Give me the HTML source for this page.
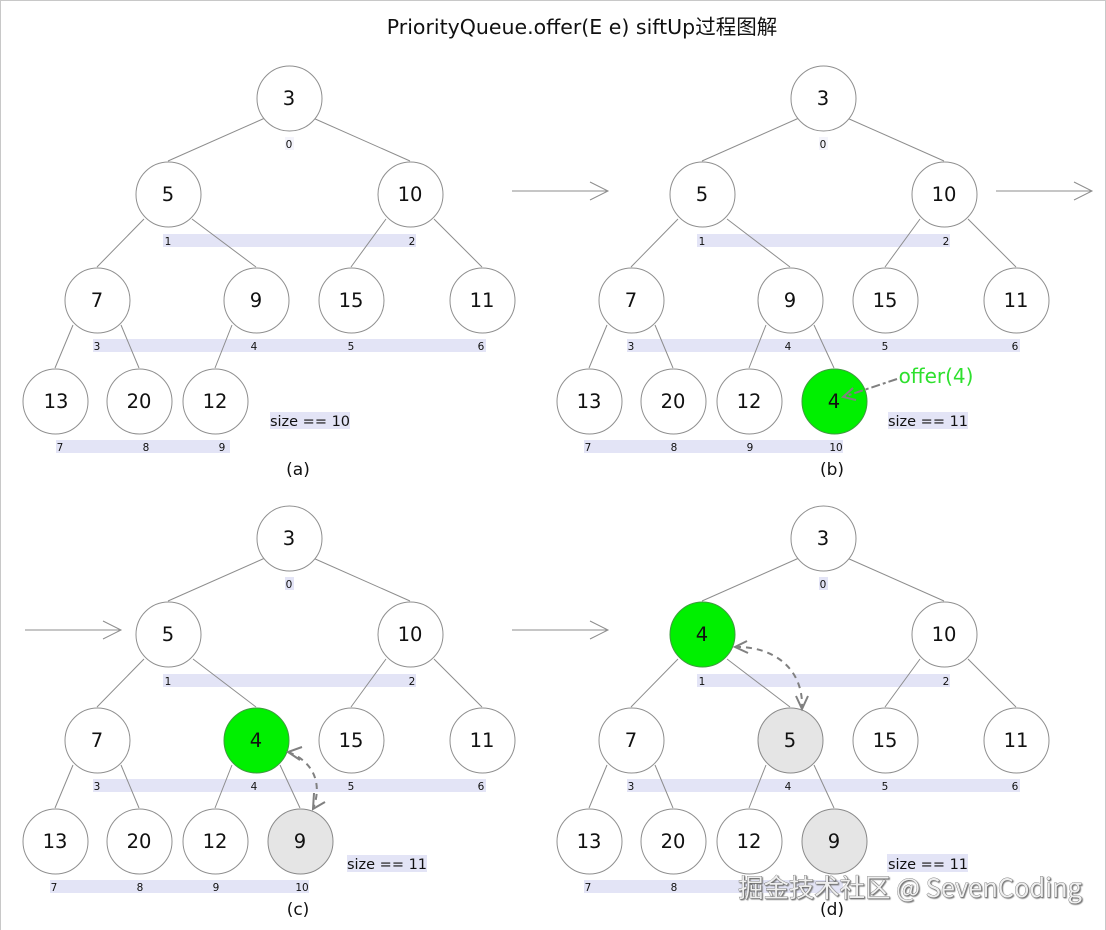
<!DOCTYPE html>
<html><head><meta charset="utf-8">
<style>
html,body{margin:0;padding:0;background:#fff;width:1106px;height:930px;overflow:hidden}
svg{display:block;filter:blur(0.35px)}
text{font-family:"DejaVu Sans","Noto Sans CJK SC",sans-serif;fill:#111;text-anchor:middle}
.bar{fill:#e3e4f6;stroke:none}
.z{fill:#f4f4fb;stroke:none}
.e{stroke:#8d8d8d;stroke-width:1;fill:none}
circle{transform:translate(.5px,.5px)}
.n{fill:#fff;stroke:#8f8f8f;stroke-width:1}
.g{fill:#00f000;stroke:#3f9a3f;stroke-width:1}
.h{fill:#e5e5e5;stroke:#8a8a8a;stroke-width:1}
.v{font-size:19.5px}
.i{font-size:10.5px}
.s{font-size:14.5px}
.c{font-size:17px}
.d{stroke:#808080;stroke-width:2;fill:none;stroke-dasharray:6 5}
.a{stroke:#808080;stroke-width:2;fill:none}
</style></head><body>
<svg width="1106" height="930" viewBox="0 0 1106 930" xmlns="http://www.w3.org/2000/svg">
<rect x="0" y="0" width="1106" height="930" fill="#fff"/>
<path d="M0.5 930V0.5H1105.5V930" fill="none" stroke="#c8c8c8" stroke-width="1"/>
<text x="582" y="34" style="font-size:20.5px">PriorityQueue.offer(E e) siftUp过程图解</text>

<!-- arrows -->
<path class="e" d="M512 191H608M590 182L608 191L590 200"/>
<path class="e" d="M996 191H1092M1074 182L1092 191L1074 200"/>
<path class="e" d="M25 630H121M103 621L121 630L103 639"/>
<path class="e" d="M512 630H608M590 621L608 630L590 639"/>

<!-- panel a -->
<g>
<rect class="bar" x="163" y="234" width="253" height="13"/>
<rect class="bar" x="93" y="339" width="393" height="13"/>
<rect class="bar" x="56" y="440" width="174" height="13"/>
<rect class="z" x="285" y="137" width="9" height="13"/>
<path class="e" d="M265 118L168 161M313 118L410 161M144 219L97 267M192 219L256 267M386 219L351 267M434 219L482 267M73 325L55 368M121 325L139 368M232 325L215 368"/>
<circle class="n" cx="289" cy="98" r="32.5"/><circle class="n" cx="168" cy="194" r="32.5"/><circle class="n" cx="410" cy="194" r="32.5"/>
<circle class="n" cx="97" cy="300" r="32.5"/><circle class="n" cx="256" cy="300" r="32.5"/><circle class="n" cx="351" cy="300" r="32.5"/><circle class="n" cx="482" cy="300" r="32.5"/>
<circle class="n" cx="55" cy="401" r="32.5"/><circle class="n" cx="139" cy="401" r="32.5"/><circle class="n" cx="215" cy="401" r="32.5"/>
<text class="v" x="289" y="105">3</text><text class="v" x="168" y="201">5</text><text class="v" x="410" y="201">10</text>
<text class="v" x="97" y="307">7</text><text class="v" x="256" y="307">9</text><text class="v" x="351" y="307">15</text><text class="v" x="482" y="307">11</text>
<text class="v" x="56" y="408">13</text><text class="v" x="139" y="408">20</text><text class="v" x="215" y="408">12</text>
<text class="i" x="289" y="148">0</text><text class="i" x="168" y="245">1</text><text class="i" x="412" y="245">2</text>
<text class="i" x="97" y="350">3</text><text class="i" x="254" y="350">4</text><text class="i" x="351" y="350">5</text><text class="i" x="481" y="350">6</text>
<text class="i" x="60" y="451">7</text><text class="i" x="146" y="451">8</text><text class="i" x="222" y="451">9</text>
<rect class="bar" x="270" y="412" width="80" height="17"/>
<text class="s" x="310" y="426">size == 10</text>
<text class="c" x="298" y="475">(a)</text>
</g>

<!-- panel b -->
<g transform="translate(534,0)">
<rect class="bar" x="163" y="234" width="253" height="13"/>
<rect class="bar" x="93" y="339" width="393" height="13"/>
<rect class="bar" x="50" y="440" width="259" height="13"/>
<rect class="z" x="285" y="137" width="9" height="13"/>
<path class="e" d="M265 118L168 161M313 118L410 161M144 219L97 267M193 219L256 267M386 219L351 267M434 219L482 267M73 325L55 368M121 325L139 368M232 325L215 368M280 325L300 368"/>
<circle class="n" cx="289" cy="98" r="32.5"/><circle class="n" cx="168" cy="194" r="32.5"/><circle class="n" cx="410" cy="194" r="32.5"/>
<circle class="n" cx="97" cy="300" r="32.5"/><circle class="n" cx="256" cy="300" r="32.5"/><circle class="n" cx="351" cy="300" r="32.5"/><circle class="n" cx="482" cy="300" r="32.5"/>
<circle class="n" cx="55" cy="401" r="32.5"/><circle class="n" cx="139" cy="401" r="32.5"/><circle class="n" cx="215" cy="401" r="32.5"/><circle class="g" cx="300" cy="401" r="32.5"/>
<text class="v" x="289" y="105">3</text><text class="v" x="168" y="201">5</text><text class="v" x="410" y="201">10</text>
<text class="v" x="97" y="307">7</text><text class="v" x="256" y="307">9</text><text class="v" x="351" y="307">15</text><text class="v" x="482" y="307">11</text>
<text class="v" x="55" y="408">13</text><text class="v" x="139" y="408">20</text><text class="v" x="215" y="408">12</text><text class="v" x="300" y="408">4</text>
<text class="i" x="289" y="148">0</text><text class="i" x="168" y="245">1</text><text class="i" x="412" y="245">2</text>
<text class="i" x="97" y="350">3</text><text class="i" x="254" y="350">4</text><text class="i" x="351" y="350">5</text><text class="i" x="481" y="350">6</text>
<text class="i" x="54" y="451">7</text><text class="i" x="140" y="451">8</text><text class="i" x="216" y="451">9</text><text class="i" x="302" y="451">10</text>
<rect class="bar" x="354" y="412" width="80" height="17"/>
<text class="s" x="394" y="426">size == 11</text>
<text class="c" x="298" y="475">(b)</text>
<path d="M363 379L309 397" stroke="#808080" stroke-width="2" fill="none" stroke-dasharray="9 3 3 3"/>
<path d="M319 388L309 397L322 400" fill="none" stroke="#808080" stroke-width="2"/>
<text x="402" y="383" style="font-size:20px;fill:#2ee02e">offer(4)</text>
</g>

<!-- panel c -->
<g transform="translate(0,440)">
<rect class="bar" x="163" y="234" width="253" height="13"/>
<rect class="bar" x="93" y="339" width="393" height="13"/>
<rect class="bar" x="50" y="440" width="259" height="13"/>
<rect class="bar" x="285" y="137" width="9" height="13"/>
<path class="e" d="M265 118L168 161M313 118L410 161M144 219L97 267M193 219L256 267M386 219L351 267M434 219L482 267M73 325L55 368M121 325L139 368M232 325L215 368M280 325L300 368"/>
<circle class="n" cx="289" cy="98" r="32.5"/><circle class="n" cx="168" cy="194" r="32.5"/><circle class="n" cx="410" cy="194" r="32.5"/>
<circle class="n" cx="97" cy="300" r="32.5"/><circle class="g" cx="256" cy="300" r="32.5"/><circle class="n" cx="351" cy="300" r="32.5"/><circle class="n" cx="482" cy="300" r="32.5"/>
<circle class="n" cx="55" cy="401" r="32.5"/><circle class="n" cx="139" cy="401" r="32.5"/><circle class="n" cx="215" cy="401" r="32.5"/><circle class="h" cx="300" cy="401" r="32.5"/>
<text class="v" x="289" y="105">3</text><text class="v" x="168" y="201">5</text><text class="v" x="410" y="201">10</text>
<text class="v" x="97" y="307">7</text><text class="v" x="256" y="307">4</text><text class="v" x="351" y="307">15</text><text class="v" x="482" y="307">11</text>
<text class="v" x="55" y="408">13</text><text class="v" x="139" y="408">20</text><text class="v" x="215" y="408">12</text><text class="v" x="300" y="408">9</text>
<text class="i" x="289" y="148">0</text><text class="i" x="168" y="245">1</text><text class="i" x="412" y="245">2</text>
<text class="i" x="97" y="350">3</text><text class="i" x="254" y="350">4</text><text class="i" x="351" y="350">5</text><text class="i" x="481" y="350">6</text>
<text class="i" x="54" y="451">7</text><text class="i" x="140" y="451">8</text><text class="i" x="216" y="451">9</text><text class="i" x="302" y="451">10</text>
<rect class="bar" x="347" y="415" width="80" height="17"/>
<text class="s" x="387" y="429">size == 11</text>
<text class="c" x="298" y="475">(c)</text>
<path class="d" d="M288 312C310 320 324 340 313 369"/>
<path class="a" d="M302 307L288 312L300 320M325 362L313 369L314 353"/>
</g>

<!-- panel d -->
<g transform="translate(534,440)">
<rect class="bar" x="163" y="234" width="253" height="13"/>
<rect class="bar" x="93" y="339" width="393" height="13"/>
<rect class="bar" x="50" y="440" width="259" height="13"/>
<rect class="bar" x="285" y="137" width="9" height="13"/>
<path class="e" d="M265 118L168 161M313 118L410 161M144 219L97 267M193 219L256 267M386 219L351 267M434 219L482 267M73 325L55 368M121 325L139 368M232 325L215 368M280 325L300 368"/>
<circle class="n" cx="289" cy="98" r="32.5"/><circle class="g" cx="168" cy="194" r="32.5"/><circle class="n" cx="410" cy="194" r="32.5"/>
<circle class="n" cx="97" cy="300" r="32.5"/><circle class="h" cx="256" cy="300" r="32.5"/><circle class="n" cx="351" cy="300" r="32.5"/><circle class="n" cx="482" cy="300" r="32.5"/>
<circle class="n" cx="55" cy="401" r="32.5"/><circle class="n" cx="139" cy="401" r="32.5"/><circle class="n" cx="215" cy="401" r="32.5"/><circle class="h" cx="300" cy="401" r="32.5"/>
<text class="v" x="289" y="105">3</text><text class="v" x="168" y="201">4</text><text class="v" x="410" y="201">10</text>
<text class="v" x="97" y="307">7</text><text class="v" x="256" y="307">5</text><text class="v" x="351" y="307">15</text><text class="v" x="482" y="307">11</text>
<text class="v" x="55" y="408">13</text><text class="v" x="139" y="408">20</text><text class="v" x="215" y="408">12</text><text class="v" x="300" y="408">9</text>
<text class="i" x="289" y="148">0</text><text class="i" x="168" y="245">1</text><text class="i" x="412" y="245">2</text>
<text class="i" x="97" y="350">3</text><text class="i" x="254" y="350">4</text><text class="i" x="351" y="350">5</text><text class="i" x="481" y="350">6</text>
<text class="i" x="54" y="451">7</text><text class="i" x="140" y="451">8</text><text class="i" x="216" y="451">9</text>
<rect class="bar" x="353" y="414" width="81" height="18"/>
<text class="s" x="394" y="429">size == 11</text>
<text class="c" x="298" y="475">(d)</text>
<path class="d" d="M201 207C235 206 270 225 268 269"/>
<path class="a" d="M213 201L201 207L214 213M262 256L268 269L274 256"/>
</g>

<!-- watermark -->
<text x="910" y="897" style="font-family:'Noto Sans CJK SC','DejaVu Sans',sans-serif;font-size:25.4px;fill:#efefef;stroke:#666;stroke-width:.7px;paint-order:stroke;filter:drop-shadow(1px 1px .5px #777)">掘金技术社区 @ SevenCoding</text>
</svg>
</body></html>
